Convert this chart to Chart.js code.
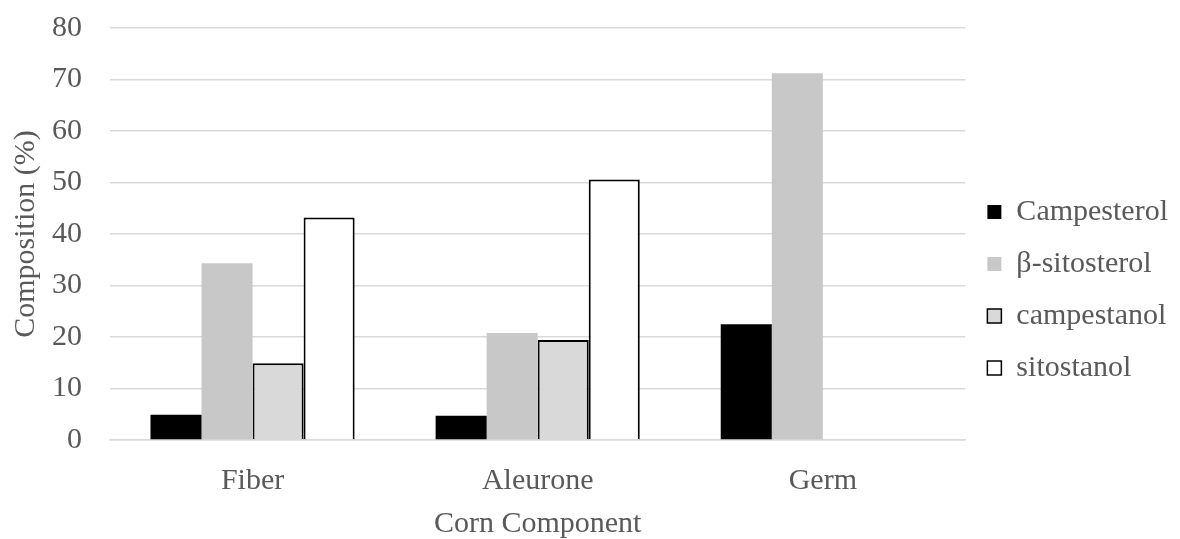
<!DOCTYPE html>
<html>
<head>
<meta charset="utf-8">
<script src="https://cdn.jsdelivr.net/npm/chart.js@4/dist/chart.umd.min.js"></script>
<style>
  html, body { margin: 0; padding: 0; background: #fff; }
  #wrap { width: 1180px; height: 539px; }
</style>
</head>
<body>
<div id="wrap"><canvas id="chart" width="1180" height="539"></canvas></div>
<script>
const categories = ['Fiber', 'Aleurone', 'Germ'];
const seriesNames = ['Campesterol', 'β-sitosterol', 'campestanol', 'sitostanol'];
const campesterol = [4.9, 4.7, 22.5];
const sitosterol = [34.3, 20.8, 71.2];
const campestanol = [14.9, 19.4, 0];
const sitostanol = [43.2, 50.6, 0];
const yTicks = [0, 10, 20, 30, 40, 50, 60, 70, 80];

const textColor = '#595959';
const gridColor = '#d9d9d9';
const fontFamily = '"Liberation Serif", "Times New Roman", serif';
const fontSize = 30;

const styles = [
  { bg: '#000000', border: '#000000', width: 0 },
  { bg: '#c8c8c8', border: '#c8c8c8', width: 0 },
  { bg: '#d9d9d9', border: '#000000', width: 2 },
  { bg: '#ffffff', border: '#000000', width: 2 }
];
const values = [campesterol, sitosterol, campestanol, sitostanol];

const datasets = seriesNames.map((name, i) => ({
  label: name,
  data: values[i],
  backgroundColor: styles[i].bg,
  borderColor: styles[i].border,
  borderWidth: styles[i].width,
  borderSkipped: 'start',
  categoryPercentage: 0.716,
  barPercentage: 1
}));

new Chart(document.getElementById('chart'), {
  type: 'bar',
  data: { labels: categories, datasets },
  options: {
    responsive: false,
    animation: false,
    layout: { padding: { top: 28, right: 2, left: 8, bottom: 0 } },
    plugins: {
      tooltip: { enabled: false },
      legend: {
        position: 'right',
        title: { display: true, text: ' ', padding: { top: 6, bottom: 6 }, font: { size: 1 } },
        labels: {
          color: textColor,
          font: { family: fontFamily, size: fontSize },
          boxWidth: 14,
          boxHeight: 14,
          padding: 22,
          generateLabels(chart) {
            return chart.data.datasets.map((ds, i) => ({
              text: ds.label,
              fillStyle: ds.backgroundColor,
              strokeStyle: ds.borderColor,
              lineWidth: ds.borderWidth ? 1.5 : 0,
              fontColor: textColor,
              datasetIndex: i,
              hidden: false
            }));
          }
        }
      }
    },
    scales: {
      x: {
        afterFit(axis) { axis.height = 99; },
        grid: { display: false },
        border: { color: gridColor, width: 1.5 },
        ticks: { color: textColor, font: { family: fontFamily, size: fontSize, lineHeight: 1 }, padding: 18 },
        title: { display: true, text: 'Corn Component', color: textColor, font: { family: fontFamily, size: fontSize, lineHeight: 1 }, padding: { top: 0, bottom: 0 } }
      },
      y: {
        min: 0,
        max: 80,
        afterBuildTicks(axis) { axis.ticks = yTicks.map(v => ({ value: v })); },
        afterFit(axis) { axis.paddingTop = 0; axis.paddingBottom = 0; },
        grid: { color: gridColor, lineWidth: 1.5, drawTicks: false },
        border: { display: false },
        ticks: { color: textColor, font: { family: fontFamily, size: fontSize }, padding: 28 },
        title: { display: true, text: 'Composition (%)', color: textColor, font: { family: fontFamily, size: fontSize }, padding: { top: 0, bottom: -20 } }
      }
    }
  }
});
</script>
</body>
</html>
